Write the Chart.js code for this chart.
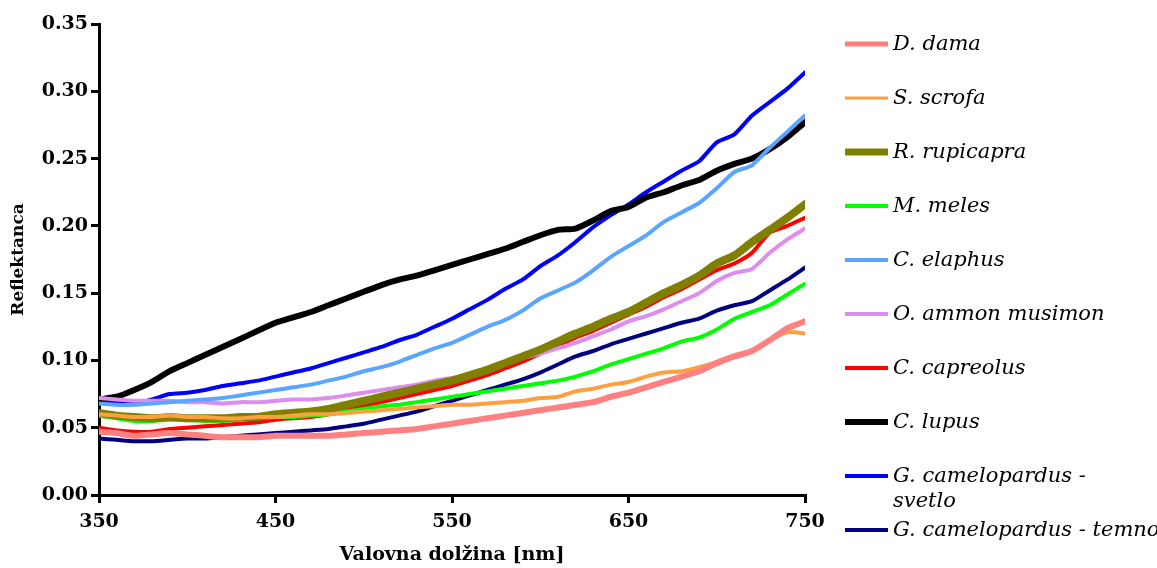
<!DOCTYPE html>
<html><head><meta charset="utf-8">
<script src="https://cdn.jsdelivr.net/npm/chart.js@4.4.1/dist/chart.umd.min.js"></script>
<style>html,body{margin:0;padding:0;background:#fff;}#wrap{width:1157px;height:568px;position:relative;}</style>
</head><body><div id="wrap"><canvas id="c" width="1157" height="568"></canvas></div>
<script>
const wavelengths = [350,360,370,380,390,400,410,420,430,440,450,460,470,480,490,500,510,520,530,540,550,560,570,580,590,600,610,620,630,640,650,660,670,680,690,700,710,720,730,740,750];
const xTicks = [350,450,550,650,750];
const yTicks = [0,0.05,0.10,0.15,0.20,0.25,0.30,0.35];
const seriesNames = ['D. dama','S. scrofa','R. rupicapra','M. meles','C. elaphus','O. ammon musimon','C. capreolus','C. lupus','G. camelopardus - svetlo','G. camelopardus - temno'];
const legendLines = [['D. dama'],['S. scrofa'],['R. rupicapra'],['M. meles'],['C. elaphus'],['O. ammon musimon'],['C. capreolus'],['C. lupus'],['G. camelopardus -','svetlo'],['G. camelopardus - temno']];
const dDama = [0.047,0.046,0.044,0.045,0.046,0.045,0.044,0.043,0.043,0.043,0.044,0.044,0.044,0.044,0.045,0.046,0.047,0.048,0.049,0.051,0.053,0.055,0.057,0.059,0.061,0.063,0.065,0.067,0.069,0.073,0.076,0.080,0.084,0.088,0.092,0.098,0.103,0.107,0.115,0.124,0.129];
const sScrofa = [0.060,0.059,0.058,0.058,0.059,0.058,0.058,0.057,0.057,0.058,0.058,0.059,0.060,0.060,0.061,0.062,0.063,0.064,0.065,0.066,0.067,0.067,0.068,0.069,0.070,0.072,0.073,0.077,0.079,0.082,0.084,0.088,0.091,0.092,0.095,0.099,0.104,0.107,0.115,0.121,0.120];
const rRupicapra = [0.061,0.059,0.058,0.057,0.058,0.057,0.057,0.057,0.058,0.058,0.060,0.061,0.062,0.064,0.067,0.070,0.073,0.076,0.079,0.082,0.085,0.089,0.093,0.098,0.103,0.108,0.114,0.120,0.125,0.131,0.136,0.143,0.150,0.156,0.163,0.172,0.178,0.188,0.197,0.206,0.216];
const mMeles = [0.059,0.057,0.055,0.055,0.056,0.056,0.055,0.055,0.056,0.057,0.058,0.058,0.059,0.060,0.062,0.064,0.066,0.067,0.069,0.071,0.073,0.075,0.077,0.079,0.081,0.083,0.085,0.088,0.092,0.097,0.101,0.105,0.109,0.114,0.117,0.123,0.131,0.136,0.141,0.149,0.157];
const cElaphus = [0.068,0.067,0.067,0.068,0.069,0.070,0.071,0.072,0.074,0.076,0.078,0.080,0.082,0.085,0.088,0.092,0.095,0.099,0.104,0.109,0.113,0.119,0.125,0.130,0.137,0.146,0.152,0.158,0.167,0.177,0.185,0.193,0.203,0.210,0.217,0.228,0.240,0.245,0.258,0.270,0.282];
const oAmmon = [0.072,0.071,0.070,0.070,0.070,0.069,0.069,0.068,0.069,0.069,0.070,0.071,0.071,0.072,0.074,0.076,0.078,0.080,0.082,0.085,0.087,0.090,0.094,0.098,0.102,0.105,0.109,0.113,0.118,0.123,0.129,0.133,0.138,0.144,0.150,0.159,0.165,0.168,0.180,0.190,0.198];
const cCapreolus = [0.050,0.048,0.047,0.047,0.049,0.050,0.051,0.052,0.053,0.054,0.056,0.057,0.058,0.060,0.063,0.066,0.069,0.072,0.075,0.078,0.081,0.085,0.089,0.094,0.099,0.105,0.111,0.117,0.122,0.128,0.134,0.140,0.147,0.153,0.160,0.167,0.172,0.180,0.195,0.200,0.206];
const cLupus = [0.071,0.073,0.078,0.084,0.092,0.098,0.104,0.110,0.116,0.122,0.128,0.132,0.136,0.141,0.146,0.151,0.156,0.160,0.163,0.167,0.171,0.175,0.179,0.183,0.188,0.193,0.197,0.198,0.204,0.211,0.214,0.221,0.225,0.230,0.234,0.241,0.246,0.250,0.257,0.266,0.277];
const gSvetlo = [0.069,0.069,0.068,0.071,0.075,0.076,0.078,0.081,0.083,0.085,0.088,0.091,0.094,0.098,0.102,0.106,0.110,0.115,0.119,0.125,0.131,0.138,0.145,0.153,0.160,0.170,0.178,0.188,0.199,0.208,0.216,0.225,0.233,0.241,0.248,0.262,0.268,0.282,0.292,0.302,0.314];
const gTemno = [0.042,0.041,0.040,0.040,0.041,0.042,0.042,0.043,0.044,0.045,0.046,0.047,0.048,0.049,0.051,0.053,0.056,0.059,0.062,0.066,0.070,0.074,0.078,0.082,0.086,0.091,0.097,0.103,0.107,0.112,0.116,0.120,0.124,0.128,0.131,0.137,0.141,0.144,0.152,0.160,0.169];

const seriesValues = [dDama,sScrofa,rRupicapra,mMeles,cElaphus,oAmmon,cCapreolus,cLupus,gSvetlo,gTemno];
const colors = ['#ff8080','#ffa040','#808000','#00ff00','#5aa5ff','#dd8cf0','#ff0000','#000000','#0000ff','#000080'];
const widths = [6,4,8,4,4,4,4,6,4,4];
const legendWidths = [5,3,7,4,4,4,4,6,4,4];

const datasets = seriesNames.map((n,i)=>({
  label:n,
  data: wavelengths.map((w,j)=>({x:w,y:seriesValues[i][j]})),
  borderColor:colors[i], backgroundColor:colors[i],
  borderWidth:widths[i], pointRadius:0, tension:0.2, fill:false,
  borderCapStyle:'round', borderJoinStyle:'round'
}));

const legendPlugin = {
  id:'customLegend',
  afterDraw(chart){
    const ctx = chart.ctx;
    ctx.save();
    chart.data.datasets.forEach((ds,i)=>{
      const y = 44 + 54*i;
      ctx.beginPath();
      ctx.strokeStyle = ds.borderColor;
      ctx.lineWidth = legendWidths[i];
      ctx.moveTo(845,y); ctx.lineTo(888,y); ctx.stroke();
      ctx.fillStyle = '#000';
      ctx.font = 'italic 21px "DejaVu Serif"';
      ctx.textBaseline = 'middle';
      ctx.textAlign = 'left';
      legendLines[i].forEach((t,k)=>{ ctx.fillText(t, 893, y + 1 + k*25); });
    });
    ctx.restore();
  }
};

new Chart(document.getElementById('c'), {
  type:'line',
  data:{datasets},
  options:{
    responsive:false, animation:false,
    layout:{padding:{top:24,right:352,left:0,bottom:0}},
    plugins:{legend:{display:false}, tooltip:{enabled:false}},
    scales:{
      x:{
        type:'linear', min:350, max:750,
        afterBuildTicks(s){ s.ticks = xTicks.map(v=>({value:v})); },
        afterFit(s){ s.height = 73; },
        border:{display:true,color:'#000',width:3},
        grid:{drawOnChartArea:false, drawTicks:true, tickLength:8, color:'#000', lineWidth:3},
        ticks:{color:'#000', padding:8, maxRotation:0, font:{family:'DejaVu Serif', weight:'bold', size:19}, callback:v=>String(v)},
        title:{display:true, text:'Valovna dolžina [nm]', color:'#000', font:{family:'DejaVu Serif', weight:'bold', size:19}, padding:{top:0,bottom:2}}
      },
      y:{
        min:0, max:0.35,
        afterBuildTicks(s){ s.ticks = yTicks.map(v=>({value:v})); },
        afterFit(s){ s.width = 99; },
        border:{display:true,color:'#000',width:3},
        grid:{drawOnChartArea:false, drawTicks:true, tickLength:8, color:'#000', lineWidth:3},
        ticks:{color:'#000', padding:3, font:{family:'DejaVu Serif', weight:'bold', size:19}, callback:v=>Number(v).toFixed(2)},
        title:{display:true, text:'Reflektanca', color:'#000', font:{family:'DejaVu Serif', weight:'bold', size:17}, padding:{top:8,bottom:0}}
      }
    }
  },
  plugins:[legendPlugin]
});
</script></body></html>
